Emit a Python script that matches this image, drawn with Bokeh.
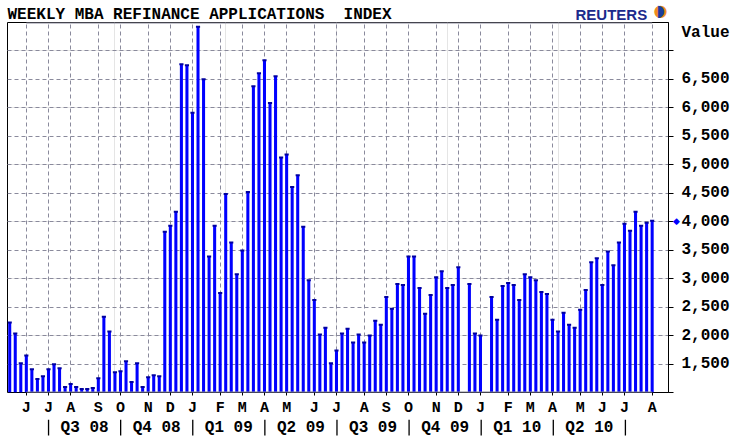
from bokeh.plotting import figure
from bokeh.layouts import column
from bokeh.models import (Range1d, LinearAxis, FixedTicker, Label, Grid,
                          NumeralTickFormatter)
from bokeh.core.properties import value
from bokeh.embed import file_html
from bokeh.resources import INLINE

# ---------------- data ----------------
WEEK = list(range(1, 118))
REFI_INDEX = [2230, 2035, 1513, 1652, 1409, 1235, 1287, 1409, 1496, 1426,
              1096, 1148, 1096, 1061, 1061, 1078, 1252, 2331, 2070, 1357,
              1374, 1548, 1183, 1513, 1096, 1270, 1305, 1287, 3826, 3930,
              4174, 6765, 6748, 5913, 7426, 6504, 3391, 3930, 2748, 4487,
              3635, 3078, 3496, 4522, 6382, 6609, 6835, 6087, 6556, 5130,
              5183, 4609, 4817, 3913, 2974, 2626, 2018, 2139, 1513, 1739,
              2035, 2122, 1878, 2018, 1878, 2000, 2261, 2191, 2678, 2470,
              2904, 2887, 3391, 3391, 2835, 2383, 2713, 3026, 3130, 2835,
              2887, 3200, None, 2904, 2035, 2000, None, 2678, 2278, 2870,
              2922, 2887, 2626, 3078, 3026, 2974, 2765, 2730, 2278, 2070,
              2400, 2191, 2139, 2452, 2800, 3287, 3357, 2887, 3478, 3235,
              3635, 3965, 3843, 4174, 3930, 3983, 4017]

MONTH_WEEK = [4, 8, 12, 17, 21, 26, 30, 34, 39, 43, 47, 51, 56, 60, 65, 69,
              73, 78, 82, 86, 91, 95, 99, 104, 108, 112, 117]
MONTH_LABELS = ["J", "J", "A", "S", "O", "N", "D", "J", "F", "M", "A", "M",
                "J", "J", "A", "S", "O", "N", "D", "J", "F", "M", "A", "M",
                "J", "J", "A"]
QUARTER_START_WEEK = [8, 21, 34, 47, 60, 73, 86, 99, 112]
QUARTER_LABELS = ["Q3 08", "Q4 08", "Q1 09", "Q2 09", "Q3 09", "Q4 09",
                  "Q1 10", "Q2 10"]
Y_GRID = [1000, 1500, 2000, 2500, 3000, 3500, 4000, 4500, 5000, 5500,
          6000, 6500, 7000]
Y_LABELED = [1500, 2000, 2500, 3000, 3500, 4000, 4500, 5000, 5500, 6000,
             6500]

TITLE = "WEEKLY MBA REFINANCE APPLICATIONS \u00a0INDEX"
LOGO = "REUTERS"
Y_CAPTION = "Value"

# ---------------- layout constants ----------------
W = 732
TOP_H, MAIN_H, BOT_H = 22, 397, 19
X_START, X_END = 0.6, 119.95
Y_MIN, Y_MAX = 1000, 7500
Y_CAPTION_AT = 7308          # vertical spot of the caption, in value units
MONO = "Liberation Mono"
GRID_COLOR = "#8a8a9c"
BAR_BLUE = "#0000ff"


def strip(height, x_range, y_range, left=0, right=0):
    f = figure(width=W, height=height, x_range=x_range, y_range=y_range,
               output_backend="svg", toolbar_location=None,
               x_axis_location=None, y_axis_location=None,
               min_border_left=left, min_border_right=right,
               min_border_top=0, min_border_bottom=0, frame_align=False)
    f.outline_line_color = None
    f.grid.visible = False
    f.background_fill_color = "white"
    f.border_fill_color = "white"
    return f


# ---------------- top strip: title and logo ----------------
top = strip(TOP_H, Range1d(0, W), Range1d(TOP_H, 0))
top.text(x=[7], y=[14], text=[TITLE], text_font=value(MONO),
         text_font_style="bold", text_font_size="16px", text_color="black",
         text_baseline="alphabetic", text_align="left")
top.text(x=[575], y=[14], text=[LOGO], text_font=value("Liberation Sans"),
         text_font_style="bold", text_font_size="15px",
         text_color="#1c2a8c", text_baseline="alphabetic", text_align="left")
top.text(x=[660], y=[10], text=["\u25cf"], text_font=value("DejaVu Sans"),
         text_font_size="16px", text_color="#f08c1e",
         text_baseline="middle", text_align="center")
top.text(x=[660], y=[10], text=["\u25d7"], text_font=value("DejaVu Sans"),
         text_font_size="16px", text_color="#1c3c9c",
         text_baseline="middle", text_align="center")

# ---------------- main chart ----------------
xr = Range1d(X_START, X_END)
p = figure(width=W, height=MAIN_H,
           x_range=xr, y_range=Range1d(Y_MIN, Y_MAX),
           output_backend="svg", toolbar_location=None,
           x_axis_location=None, y_axis_location=None,
           min_border_left=7, min_border_right=63,
           min_border_top=0, min_border_bottom=24, frame_align=False)
p.outline_line_color = "black"
p.outline_line_width = 1
p.background_fill_color = "white"
p.border_fill_color = "white"

# right value axis: labels as major ticks, marks as minor ticks
y_over = {Y_CAPTION_AT: Y_CAPTION}
yaxis = LinearAxis(ticker=FixedTicker(ticks=Y_LABELED + [Y_CAPTION_AT],
                                      minor_ticks=Y_GRID),
                   formatter=NumeralTickFormatter(format="0,0"),
                   major_label_overrides=y_over)
yaxis.axis_line_color = "black"
yaxis.major_tick_line_color = None
yaxis.major_tick_out = 0
yaxis.major_tick_in = 0
yaxis.minor_tick_line_color = "black"
yaxis.minor_tick_out = 5
yaxis.minor_tick_in = 0
yaxis.major_label_standoff = 8
yaxis.major_label_text_font = MONO
yaxis.major_label_text_font_style = "bold"
yaxis.major_label_text_font_size = "16px"
yaxis.major_label_text_color = "black"
p.add_layout(yaxis, "right")

# month axis
xaxis = LinearAxis(ticker=FixedTicker(ticks=MONTH_WEEK),
                   major_label_overrides=dict(zip(MONTH_WEEK, MONTH_LABELS)))
xaxis.axis_line_color = None
xaxis.major_tick_line_color = "black"
xaxis.major_tick_out = 3
xaxis.major_tick_in = 0
xaxis.minor_tick_line_color = None
xaxis.major_label_standoff = 4
xaxis.major_label_text_font = MONO
xaxis.major_label_text_font_style = "bold"
xaxis.major_label_text_font_size = "15px"
xaxis.major_label_text_color = "black"
p.add_layout(xaxis, "below")

# grids
p.add_layout(Grid(dimension=0, axis=xaxis, grid_line_color=GRID_COLOR,
                  grid_line_dash="4 3", grid_line_width=1))
p.add_layout(Grid(dimension=1, axis=yaxis, grid_line_color=None,
                  minor_grid_line_color=GRID_COLOR,
                  minor_grid_line_dash="4 3", minor_grid_line_width=1))

# bars
xs = [w for w, v in zip(WEEK, REFI_INDEX) if v is not None]
ys = [v for v in REFI_INDEX if v is not None]
p.vbar(x=xs, top=ys, bottom=0, width=0.55, fill_color=BAR_BLUE,
       line_color=None)
p.rect(x=xs, y=ys, width=0.75, height=2, height_units="screen",
       fill_color="#0000a0", line_color=None)

# gray frame edges between first and last month
p.segment(x0=[MONTH_WEEK[0], MONTH_WEEK[0]], x1=[MONTH_WEEK[-1], MONTH_WEEK[-1]],
          y0=[Y_MIN, Y_MAX], y1=[Y_MIN, Y_MAX], line_color=GRID_COLOR,
          line_width=2)

# last value marker beside the value axis (held by the narrow left panel,
# so it is not clipped and does not change the frame size)
p.add_layout(Label(x=676, y=ys[-1], x_units="canvas", y_units="data",
                   text="\u25c6", text_font="DejaVu Sans",
                   text_font_size="9px", text_color=BAR_BLUE,
                   text_baseline="middle", text_align="center"), "left")

# ---------------- bottom strip: quarters ----------------
bot = strip(BOT_H, xr, Range1d(0, BOT_H), left=7, right=63)
q_mid = [(a + b) / 2 for a, b in zip(QUARTER_START_WEEK[:-1],
                                     QUARTER_START_WEEK[1:])]
bot.text(x=q_mid, y=[BOT_H - 8] * len(q_mid), text=QUARTER_LABELS,
         text_font=value(MONO), text_font_style="bold",
         text_font_size="16px", text_color="black",
         text_baseline="middle", text_align="center")
bot.segment(x0=QUARTER_START_WEEK, x1=QUARTER_START_WEEK,
            y0=[3] * len(QUARTER_START_WEEK),
            y1=[BOT_H] * len(QUARTER_START_WEEK),
            line_color="black", line_width=1.3)

layout = column(top, p, bot, spacing=0)
open("out.html", "w").write(file_html(layout, INLINE))
